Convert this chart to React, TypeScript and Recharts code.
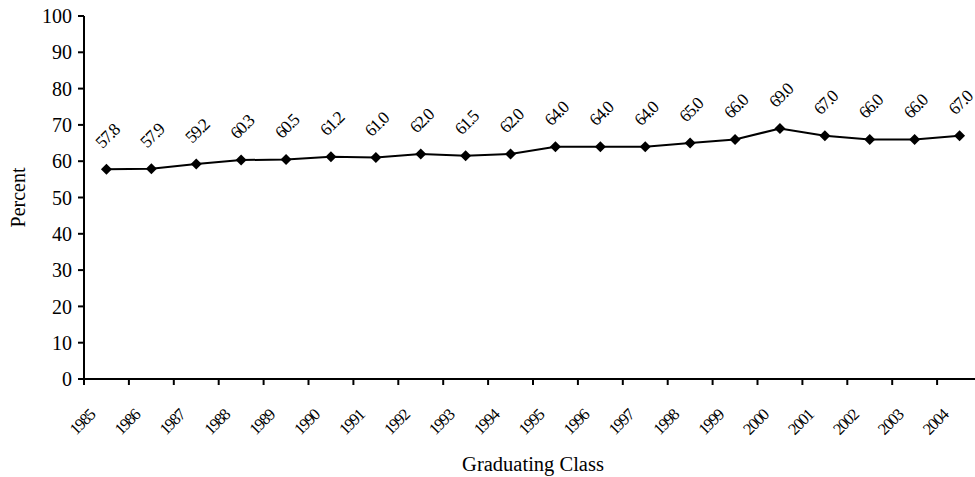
import React from 'react';
import { LineChart, Line, XAxis, YAxis, LabelList, Label } from 'recharts';

const years = [
  '1985', '1986', '1987', '1988', '1989', '1990', '1991', '1992', '1993', '1994',
  '1995', '1996', '1997', '1998', '1999', '2000', '2001', '2002', '2003', '2004',
];
const percents = [
  57.8, 57.9, 59.2, 60.3, 60.5, 61.2, 61.0, 62.0, 61.5, 62.0,
  64.0, 64.0, 64.0, 65.0, 66.0, 69.0, 67.0, 66.0, 66.0, 67.0,
];
const yTicks = [0, 10, 20, 30, 40, 50, 60, 70, 80, 90, 100];

const FONT = '"Liberation Serif", "Times New Roman", serif';

// points sit in the middle of each year slot, year labels sit on the slot edges
const chartData = years.map((year, i) => ({ slot: i + 0.5, year, value: percents[i] }));
const xTicks = years.map((_, i) => i);

const YearTick = (props: any) => {
  const { x, y, payload } = props;
  return (
    <g transform={`translate(${x + 12}, ${y + 31}) rotate(-45)`}>
      <text
        x={0}
        y={0}
        textAnchor="end"
        fontSize={16.5}
        letterSpacing={-1.3}
        fontFamily={FONT}
        fill="#000"
      >
        {years[payload.value]}
      </text>
    </g>
  );
};

const Diamond = (props: any) => {
  const { cx, cy, index } = props;
  if (cx == null || cy == null) return null;
  const r = 5.5;
  return (
    <path
      key={`d-${index}`}
      d={`M${cx},${cy - r}L${cx + r},${cy}L${cx},${cy + r}L${cx - r},${cy}Z`}
      fill="#000"
    />
  );
};

const ValueLabel = (props: any) => {
  const { x, y, value } = props;
  return (
    <g transform={`translate(${x + 5}, ${y - 29}) rotate(-45)`}>
      <text
        x={0}
        y={0}
        textAnchor="middle"
        fontSize={17.5}
        letterSpacing={-1.3}
        fontFamily={FONT}
        fill="#000"
      >
        {Number(value).toFixed(1)}
      </text>
    </g>
  );
};

export default function App() {
  return (
    <div
      style={{
        position: 'absolute',
        left: 0,
        top: 0,
        width: 975,
        height: 477,
        overflow: 'hidden',
        background: '#fff',
      }}
    >
      <LineChart
        width={982}
        height={477}
        data={chartData}
        margin={{ top: 16, right: 0, bottom: 0, left: 0 }}
      >
        <XAxis
          dataKey="slot"
          type="number"
          domain={[0, 20]}
          ticks={xTicks}
          interval={0}
          height={98}
          tickSize={6}
          tickMargin={0}
          tick={<YearTick />}
          axisLine={{ stroke: '#000', strokeWidth: 2 }}
          tickLine={{ stroke: '#000', strokeWidth: 2 }}
        >
          <Label
            value="Graduating Class"
            position="insideBottom"
            offset={6}
            style={{ fontSize: 20.5, fontFamily: FONT, fill: '#000' }}
          />
        </XAxis>
        <YAxis
          type="number"
          domain={[0, 100]}
          ticks={yTicks}
          interval={0}
          width={84}
          tickSize={6}
          tickMargin={6}
          tick={{ fontSize: 20, fontFamily: FONT, fill: '#000' }}
          axisLine={{ stroke: '#000', strokeWidth: 2 }}
          tickLine={{ stroke: '#000', strokeWidth: 2 }}
        >
          <Label
            value="Percent"
            angle={-90}
            position="insideLeft"
            offset={18}
            style={{ fontSize: 20, fontFamily: FONT, fill: '#000', textAnchor: 'middle' }}
          />
        </YAxis>
        <Line
          dataKey="value"
          stroke="#000"
          strokeWidth={2}
          dot={<Diamond />}
          activeDot={false}
          isAnimationActive={false}
        >
          <LabelList dataKey="value" content={<ValueLabel />} />
        </Line>
      </LineChart>
    </div>
  );
}
